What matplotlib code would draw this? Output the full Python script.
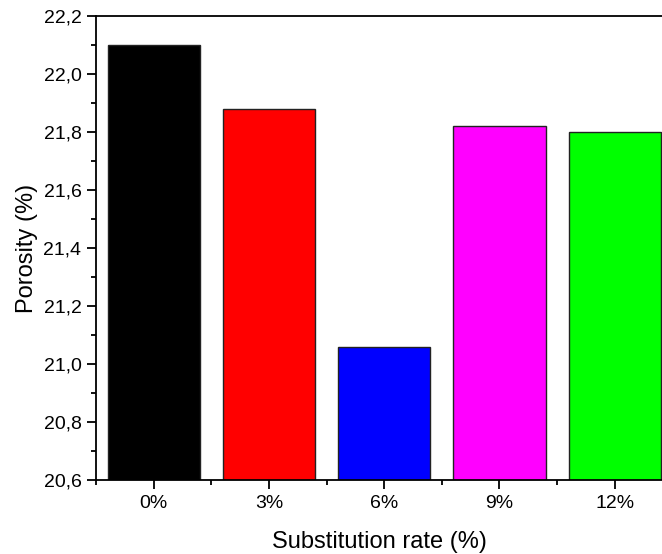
import numpy as np
import matplotlib
matplotlib.use("Agg")
from matplotlib import pyplot as plt
from matplotlib.ticker import MultipleLocator

rates = ["0%", "3%", "6%", "9%", "12%"]
porosity = [22.10, 21.88, 21.06, 21.82, 21.80]
colors = ["#000000", "#ff0000", "#0000ff", "#ff00ff", "#00ff00"]

plt.rcParams["font.family"] = ["Liberation Sans", "DejaVu Sans"]

fig = plt.figure(figsize=(6.62, 5.54), dpi=100)
ax = fig.add_axes([96 / 662, 1 - 480 / 554, 1 - 96 / 662, (480 - 16) / 554])

x = np.arange(len(rates))
ax.bar(x, porosity, width=0.8, color=colors, edgecolor="#222222", linewidth=1.0)

ax.set_xlim(-0.5, 4.41)
ax.set_ylim(20.6, 22.2)
ax.set_xticks(x)
ax.set_xticklabels(rates)
ax.xaxis.set_minor_locator(MultipleLocator(1, offset=0.5))
ax.yaxis.set_major_locator(MultipleLocator(0.2))
ax.yaxis.set_minor_locator(MultipleLocator(0.1))
ax.yaxis.set_major_formatter(lambda v, p: f"{v:.1f}".replace(".", ","))

ax.spines["right"].set_visible(False)
for s in ["left", "bottom", "top"]:
    ax.spines[s].set_linewidth(1.3)

ax.tick_params(which="major", length=6.5, width=1.3, labelsize=14, direction="out", pad=4)
ax.tick_params(which="minor", length=3.5, width=1.3, direction="out")
ax.tick_params(top=False, which="both")

ax.set_xlabel("Substitution rate (%)", fontsize=17, labelpad=14)
ax.set_ylabel("Porosity (%)", fontsize=17, labelpad=4)

fig.savefig("out.png", dpi=100)
